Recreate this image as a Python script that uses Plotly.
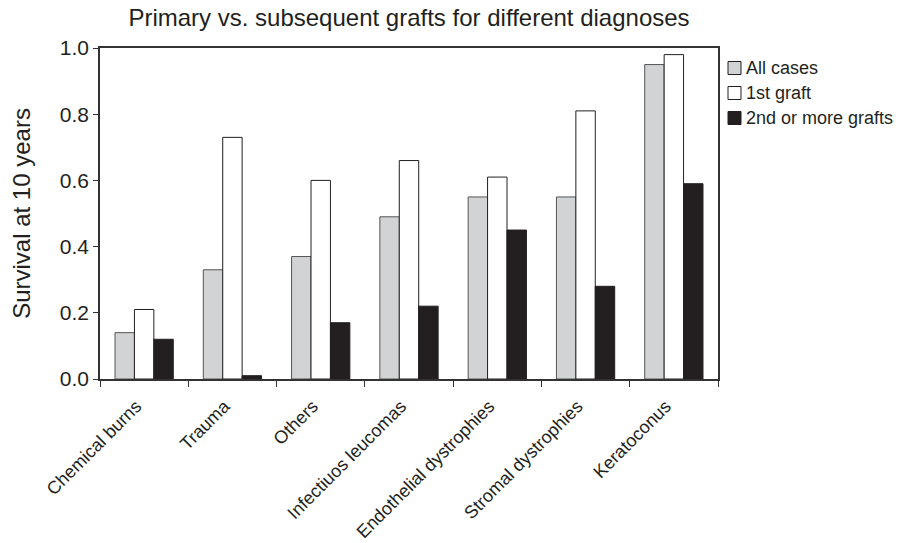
import plotly.graph_objects as go

categories = ["Chemical burns", "Trauma", "Others", "Infectiuos leucomas",
              "Endothelial dystrophies", "Stromal dystrophies", "Keratoconus"]
all_cases = [0.14, 0.33, 0.37, 0.49, 0.55, 0.55, 0.95]
first_graft = [0.21, 0.73, 0.60, 0.66, 0.61, 0.81, 0.98]
second_more = [0.12, 0.01, 0.17, 0.22, 0.45, 0.28, 0.59]
y_ticks = [0.0, 0.2, 0.4, 0.6, 0.8, 1.0]

series = [
    ("All cases", all_cases, "#d1d3d4", "#555555"),
    ("1st graft", first_graft, "#ffffff", "#231f20"),
    ("2nd or more grafts", second_more, "#231f20", "#231f20"),
]

font_family = "Liberation Sans, Arial, sans-serif"
ink = "#231f20"

W, H = 898, 543
L, R, T, B = 100, 180, 48, 164
PW, PH = W - L - R, H - T - B


def px_x(x):
    return (x - L) / PW


def px_y(y):
    return (H - B - y) / PH


fig = go.Figure()
for name, vals, color, edge in series:
    fig.add_trace(go.Bar(
        x=categories, y=vals, name=name, showlegend=False,
        marker=dict(color=color, line=dict(color=edge, width=1)),
    ))

# legend drawn as swatches + labels to the right of the plot
shapes, annotations = [], []
for i, (name, _, color, edge) in enumerate(series):
    cy = 68 + 25 * i
    shapes.append(dict(type="rect", xref="paper", yref="paper",
                       x0=px_x(728), x1=px_x(741),
                       y0=px_y(cy + 6.5), y1=px_y(cy - 6.5),
                       fillcolor=color, line=dict(color=ink, width=1)))
    annotations.append(dict(text=name, xref="paper", yref="paper",
                            x=px_x(744), y=px_y(cy), xanchor="left",
                            yanchor="middle", showarrow=False,
                            font=dict(size=18, family=font_family, color=ink)))

fig.update_layout(
    width=W, height=H,
    margin=dict(l=L, r=R, t=T, b=B),
    paper_bgcolor="white", plot_bgcolor="white",
    barmode="group", bargap=0.34, bargroupgap=0,
    font=dict(family=font_family, color=ink),
    title=dict(text="Primary vs. subsequent grafts for different diagnoses",
               x=0.5, xref="paper", xanchor="center",
               y=1 - 18 / H, yanchor="middle",
               font=dict(size=24, family=font_family, color=ink)),
    shapes=shapes,
    annotations=annotations,
    showlegend=False,
)

fig.update_xaxes(
    type="category", tickson="boundaries", ticks="outside", ticklen=6,
    tickcolor="#333333", tickwidth=1.2,
    tickangle=-45, tickfont=dict(size=18, family=font_family, color=ink),
    ticklabelstandoff=8, ticklabelshift=-8,
    showline=True, linecolor="#333333", linewidth=1.5, mirror=True,
    showgrid=False, zeroline=False, automargin=False,
)
fig.update_yaxes(
    range=[0, 1.0], tickvals=y_ticks, ticktext=[f"{v:.1f}" for v in y_ticks],
    ticks="outside", ticklen=5, tickcolor="#333333", tickwidth=1.2,
    tickfont=dict(size=21, family=font_family, color=ink),
    showline=True, linecolor="#333333", linewidth=1.5, mirror=True,
    showgrid=False, zeroline=False, automargin=True,
    title=dict(text="Survival at 10 years", standoff=22,
               font=dict(size=24, family=font_family, color=ink)),
)

fig.write_html("out.html")
